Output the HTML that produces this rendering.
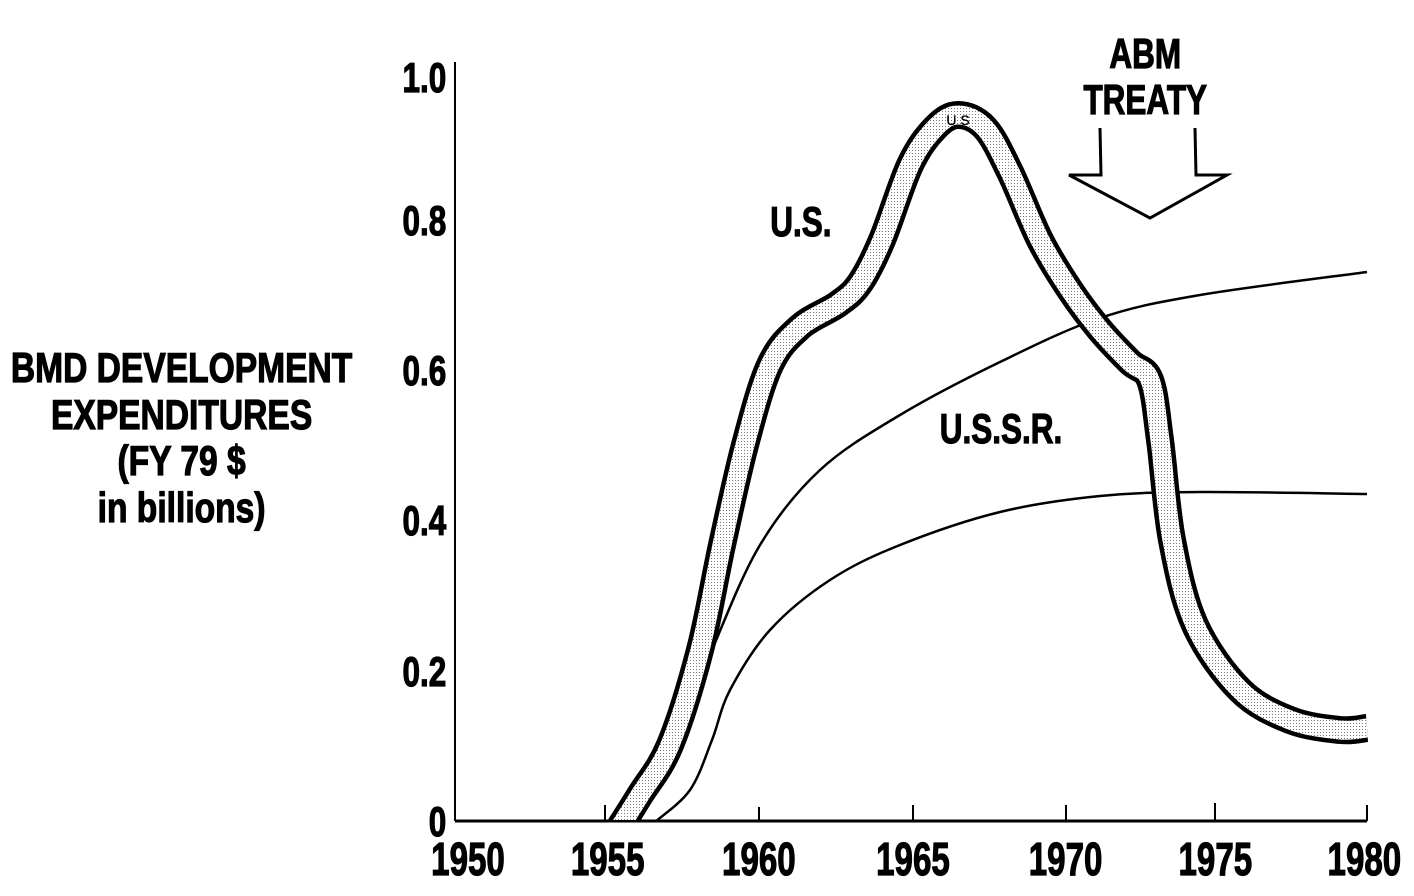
<!DOCTYPE html>
<html><head><meta charset="utf-8"><style>
html,body{margin:0;padding:0;background:#fff;}
svg{display:block;}
text{font-family:"Liberation Sans",sans-serif;font-weight:bold;fill:#000;stroke:#000;stroke-width:1.2;}
</style></head><body>
<svg id="s" width="1414" height="896" viewBox="0 0 1414 896" xmlns="http://www.w3.org/2000/svg">
<defs>
<pattern id="dots" width="3" height="3" patternUnits="userSpaceOnUse">
<rect width="3" height="3" fill="#fff"/><rect width="1" height="1" fill="#777"/>
</pattern>
<clipPath id="cp"><rect x="455" y="0" width="960" height="820"/></clipPath>
</defs>
<line x1="455" y1="62" x2="455" y2="821" stroke="#000" stroke-width="2"/>
<line x1="455" y1="821" x2="1367" y2="821" stroke="#000" stroke-width="3"/>
<g stroke="#000" stroke-width="2">
<line x1="605" y1="821" x2="605" y2="805"/><line x1="759" y1="821" x2="759" y2="807"/>
<line x1="913" y1="821" x2="913" y2="805"/><line x1="1066" y1="821" x2="1066" y2="805"/>
<line x1="1215" y1="821" x2="1215" y2="803"/><line x1="1367" y1="821" x2="1367" y2="805"/>
</g>
<g font-size="42" text-anchor="end" transform="scale(0.75,1)">
<text x="595" y="92">1.0</text>
<text x="595" y="235">0.8</text>
<text x="595" y="385">0.6</text>
<text x="595" y="535">0.4</text>
<text x="595" y="686">0.2</text>
<text x="595" y="836">0</text>
</g>
<g font-size="46" text-anchor="middle" transform="scale(0.72,1)">
<text x="650" y="875">1950</text>
<text x="844" y="875">1955</text>
<text x="1054" y="875">1960</text>
<text x="1268" y="875">1965</text>
<text x="1480" y="875">1970</text>
<text x="1688" y="875">1975</text>
<text x="1895" y="875">1980</text>
</g>
<g font-size="42" text-anchor="middle" transform="scale(0.8,1)">
<text x="227" y="382">BMD DEVELOPMENT</text>
<text x="227" y="429">EXPENDITURES</text>
<text x="227" y="475">(FY 79 $</text>
<text x="227" y="522">in billions)</text>
</g>
<g font-size="42" transform="scale(0.75,1)">
<text x="1027" y="236">U.S.</text>
<text x="1253" y="443">U.S.S.R.</text>
<text x="1527" y="68" text-anchor="middle">ABM</text>
<text x="1527" y="114" text-anchor="middle">TREATY</text>
</g>
<path d="M1100 128 L1101 175 L1069 175 L1150 218 L1227 175 L1196 175 L1195 128" fill="none" stroke="#000" stroke-width="3"/>
<g id="curves" clip-path="url(#cp)"></g>
<text x="958" y="125" font-size="14" text-anchor="middle" style="font-weight:normal;stroke-width:0.3">U S</text>
</svg>
<script>
function cr(p){var d="M"+p[0][0]+" "+p[0][1];for(var i=0;i<p.length-1;i++){var p0=p[i-1]||p[i],p1=p[i],p2=p[i+1],p3=p[i+2]||p2;
d+=" C"+(p1[0]+(p2[0]-p0[0])/6)+" "+(p1[1]+(p2[1]-p0[1])/6)+" "+(p2[0]-(p3[0]-p1[0])/6)+" "+(p2[1]-(p3[1]-p1[1])/6)+" "+p2[0]+" "+p2[1];}return d;}
var us=[[618,830],[640,795],[670,745],[700,650],[722,545],[745,445],[770,365],[800,327],[838,304],[860,283],[882,240],[910,165],[935,128],[958,115],[985,128],[1010,172],[1040,240],[1070,290],[1100,330],[1130,362],[1150,380],[1160,440],[1172,540],[1195,625],[1240,690],[1290,720],[1340,730],[1367,728]];
var u1=[[628,822],[645,800],[680,732],[712,650],[760,545],[820,470],[900,415],[1000,362],[1100,318],[1200,295],[1367,272]];
var u2=[[655,822],[690,790],[712,740],[730,690],[770,630],[830,580],[900,545],[1000,512],[1100,496],[1200,492],[1367,494]];
var g=document.getElementById("curves");
function add(d,w,c){var e=document.createElementNS("http://www.w3.org/2000/svg","path");e.setAttribute("d",d);e.setAttribute("fill","none");e.setAttribute("stroke",c);e.setAttribute("stroke-width",w);e.setAttribute("stroke-linejoin","round");g.appendChild(e);}
add(cr(u1),2.5,"#000");add(cr(u2),2.5,"#000");
var d=cr(us);add(d,28,"#000");add(d,19,"url(#dots)");
</script>
</body></html>
